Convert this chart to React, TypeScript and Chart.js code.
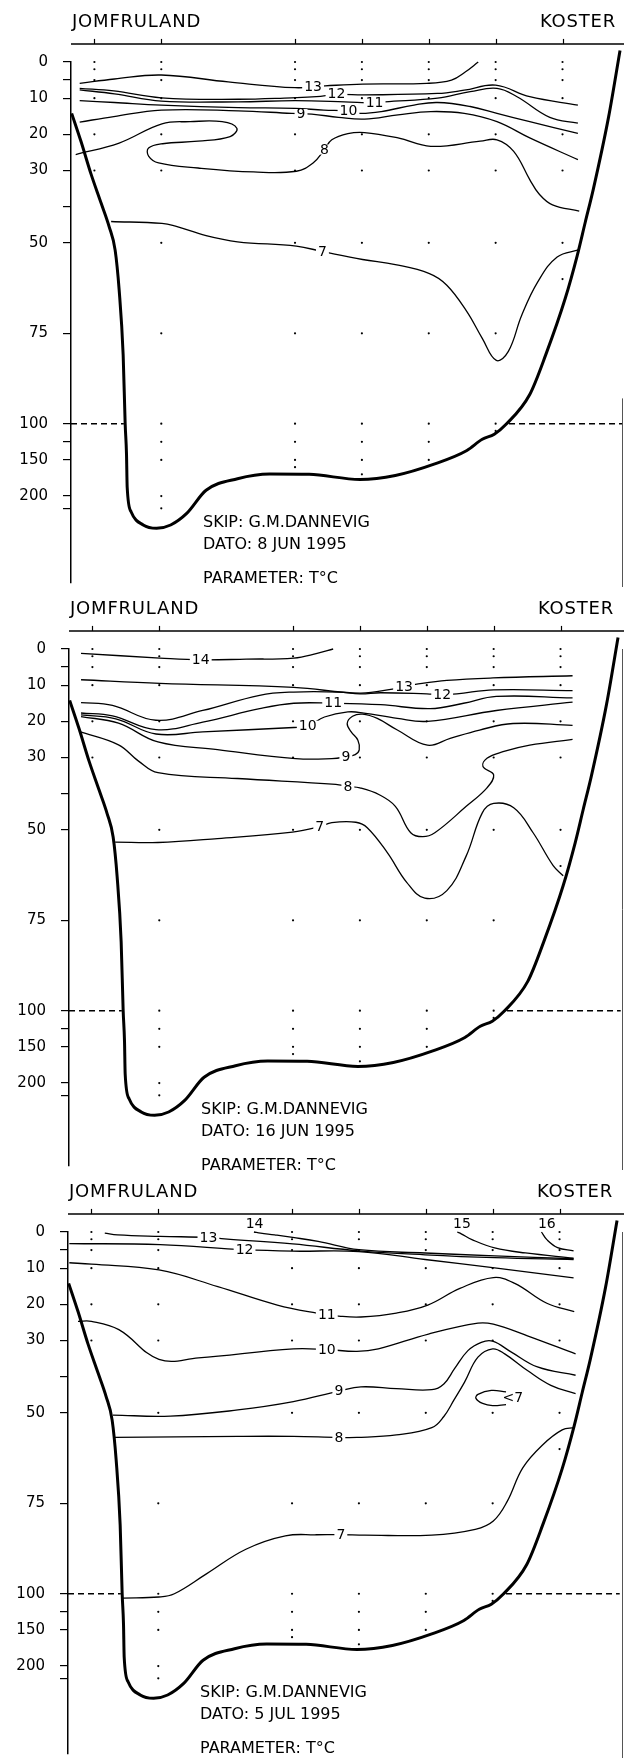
import React, { useEffect, useRef } from 'react';
import { Chart, registerables } from 'chart.js';
Chart.register(...registerables);

// ---------- shared data ----------
const stationX = [0, 1, 3, 4, 5, 6, 7];
const stationDepths = [
  [0, 2, 5, 10, 20, 30],
  [0, 2, 5, 10, 20, 30, 50, 75, 100, 125, 150, 200, 217],
  [0, 2, 5, 10, 20, 30, 50, 75, 100, 125, 150, 160],
  [0, 2, 5, 10, 20, 30, 50, 75, 100, 125, 150, 170],
  [0, 2, 5, 10, 20, 30, 50, 75, 100, 125, 150],
  [0, 2, 5, 10, 20, 30, 50, 75, 100, 110],
  [0, 2, 5, 10, 20, 30, 50, 60],
];
const yTickDepths = [0, 5, 10, 20, 30, 40, 50, 75, 100, 125, 150, 200, 217];
const yTickLabels = ['0', '', '10', '20', '30', '', '50', '75', '100', '', '150', '200', ''];

// bottom profile [distance, depth m]
const bottom = [
  [-0.34, 14.2], [-0.2, 22], [-0.05, 31], [0.1, 39], [0.22, 45.5], [0.31, 52], [0.37, 63], [0.43, 81],
  [0.46, 100], [0.48, 142], [0.49, 187.5], [0.55, 222], [0.73, 240], [0.93, 244.6], [1.14, 240],
  [1.38, 224], [1.67, 192], [2.14, 176], [2.62, 169.5], [3.21, 170], [3.97, 177], [4.5, 171.5],
  [5.09, 155.5], [5.57, 137], [5.8, 121.5], [5.98, 114.5], [6.16, 100.5], [6.51, 91.9], [6.75, 80.9],
  [7.04, 65.4], [7.22, 53.5], [7.34, 44.3], [7.46, 35.2], [7.69, 15.1], [7.86, -3.2],
];
const dash100Left = [[-0.35, 100], [0.44, 100]];
const dash100Right = [[6.2, 100], [7.9, 100]];

// ---------- panel 1: 8 JUN 1995 ----------
const p1_t13 = [[-0.22, 5.9], [0.3, 4.7], [1.0, 3.6], [2.0, 5.5], [3.0, 7.1], [3.45, 6.6], [4.01, 6.1], [4.97, 5.9], [5.34, 5.0], [5.55, 2.7], [5.74, 0]];
const p1_t12 = [[-0.22, 7.3], [0.29, 8.0], [1.0, 9.9], [2.15, 10.3], [2.95, 9.9], [3.32, 9.6], [3.62, 9.0], [4.04, 9.1], [5.13, 8.7], [5.53, 7.8], [6.0, 6.4], [6.51, 9.6], [7.23, 11.9]];
const p1_t11 = [[-0.22, 7.7], [0.3, 8.8], [1.0, 10.8], [2.15, 11.0], [3.0, 10.7], [3.74, 11.0], [4.19, 11.3], [4.34, 11.0], [5.13, 10.0], [5.62, 8.2], [6.02, 7.3], [6.32, 9.6], [6.81, 15.3], [7.23, 16.9]];
const p1_t10 = [[-0.22, 10.7], [0.3, 11.2], [1.0, 11.9], [2.15, 12.6], [3.0, 12.8], [3.43, 13.3], [3.8, 13.5], [3.97, 14.2], [4.29, 13.7], [4.78, 11.9], [5.13, 11.2], [5.62, 12.3], [6.02, 14.2], [6.51, 16.5], [7.23, 19.7]];
const p1_t9 = [[-0.22, 16.6], [0.29, 15.1], [1.0, 13.3], [2.15, 13.5], [2.95, 14.2], [3.25, 14.4], [3.65, 15.3], [4.04, 15.8], [4.54, 14.6], [5.03, 13.7], [5.53, 14.2], [6.02, 16.5], [6.51, 21.0], [7.23, 27.0]];
const p1_t8 = [[-0.28, 25.6], [0.37, 22.4], [1.01, 17.1], [1.43, 16.5], [1.91, 16.5], [2.13, 18.3], [2.03, 20.6], [1.55, 21.9], [1.02, 22.6], [0.81, 23.8], [0.81, 26.0], [0.96, 27.9], [1.55, 29.3], [2.38, 30.4], [3.02, 30.2], [3.27, 27.9], [3.44, 24.2], [3.55, 21.5], [3.79, 19.8], [4.04, 19.5], [4.54, 21.0], [5.03, 23.3], [5.77, 21.9], [6.02, 21.5], [6.27, 24.7], [6.51, 32.5], [6.65, 36.5], [6.85, 39.5], [7.25, 41.2]];
const p1_t7 = [[0.25, 44.1], [1.01, 44.6], [1.2, 45.3], [1.67, 48.0], [2.14, 49.7], [3.02, 50.9], [3.41, 52.4], [4.01, 54.6], [4.5, 56.0], [5.01, 58.5], [5.27, 61.7], [5.57, 69.0], [5.8, 76.4], [6.01, 82.5], [6.19, 80.0], [6.39, 70.0], [6.63, 60.8], [6.92, 53.9], [7.25, 51.9]];
const p1_labels: [string, number, number, boolean][] = [
  ['13', 3.27, 6.9, false], ['12', 3.62, 8.9, false], ['11', 4.19, 11.3, false], ['10', 3.8, 13.4, false],
  ['9', 3.09, 14.4, false], ['8', 3.44, 24.2, false], ['7', 3.41, 52.6, false],
];

// ---------- panel 2: 16 JUN 1995 ----------
const p2_t14 = [[-0.17, 1.2], [1.01, 2.5], [1.62, 3.0], [2.3, 2.8], [3.01, 2.5], [3.36, 1.2], [3.6, 0]];
const p2_t13 = [[-0.17, 8.5], [1.01, 9.5], [3.01, 10.6], [4.0, 12.2], [4.51, 11.0], [4.66, 10.4], [4.83, 9.8], [5.3, 8.7], [5.99, 8.0], [7.18, 7.4]];
const p2_t12 = [[-0.17, 14.8], [0.3, 15.6], [0.95, 19.7], [1.65, 17.0], [2.5, 12.8], [3.01, 11.9], [3.68, 11.9], [4.0, 12.4], [4.31, 12.1], [5.0, 12.4], [5.23, 12.6], [5.45, 12.4], [6.0, 11.3], [7.18, 11.5]];
const p2_t11 = [[-0.17, 17.7], [0.3, 18.5], [0.95, 22.3], [1.65, 20.2], [2.5, 16.5], [3.01, 15.0], [3.6, 15.0], [4.31, 15.4], [5.05, 16.5], [5.55, 15.0], [6.04, 13.1], [7.18, 13.5]];
const p2_t10 = [[-0.17, 18.2], [0.35, 19.3], [0.95, 23.5], [1.65, 22.9], [3.01, 21.7], [3.22, 21.3], [3.47, 18.8], [3.82, 17.4], [4.06, 17.7], [4.56, 19.2], [5.01, 20.0], [6.04, 17.0], [7.18, 14.7]];
const p2_t9 = [[-0.17, 18.7], [0.39, 20.5], [0.98, 25.7], [1.87, 27.8], [3.04, 30.3], [3.58, 30.3], [3.79, 29.8], [3.93, 29.2], [3.99, 27.9], [3.97, 25.2], [3.87, 22.9], [3.81, 20.6], [3.89, 18.6], [4.04, 18.0], [4.26, 19.2], [4.56, 22.4], [5.01, 26.6], [5.35, 24.7], [5.79, 22.4], [6.29, 20.6], [7.18, 21.1]];
const p2_t8 = [[-0.2, 22.8], [0.39, 26.5], [0.69, 31.0], [0.98, 34.2], [2.17, 35.8], [3.64, 37.4], [3.82, 38.0], [4.0, 38.4], [4.29, 40.3], [4.53, 43.5], [4.76, 50.8], [4.94, 51.9], [5.12, 50.8], [5.59, 43.5], [5.9, 38.4], [6.0, 34.8], [5.84, 32.5], [5.9, 30.2], [6.14, 28.4], [6.54, 26.6], [7.18, 25.0]];
const p2_t7 = [[0.34, 53.4], [0.98, 53.5], [1.87, 52.4], [2.99, 50.6], [3.4, 49.1], [3.58, 48.0], [3.94, 47.9], [4.11, 49.4], [4.41, 56.3], [4.7, 64.5], [4.97, 68.9], [5.3, 66.8], [5.59, 57.2], [5.83, 45.3], [6.0, 42.7], [6.3, 43.9], [6.59, 50.8], [6.89, 59.9], [7.04, 62.7]];
const p2_labels: [string, number, number, boolean][] = [
  ['14', 1.62, 3.1, false], ['13', 4.66, 10.4, false], ['12', 5.23, 12.7, false], ['11', 3.6, 15.0, false],
  ['10', 3.22, 21.2, false], ['9', 3.79, 29.8, false], ['8', 3.82, 38.0, false], ['7', 3.4, 49.1, false],
];

// ---------- panel 3: 5 JUL 1995 ----------
const p3_t16 = [[6.73, 0], [6.81, 2.1], [6.97, 4.3], [7.21, 5.2]];
const p3_t15 = [[5.47, 0], [5.53, 0.5], [5.69, 2.1], [6.03, 4.4], [6.49, 5.8], [7.21, 7.2]];
const p3_t14 = [[2.43, 0], [2.53, 0.3], [2.74, 0.8], [3.01, 1.5], [3.39, 2.6], [4.0, 4.9], [4.99, 5.8], [6.03, 6.6], [7.21, 7.4]];
const p3_t13 = [[0.2, 0.3], [0.39, 0.8], [1.03, 1.2], [1.75, 1.5], [1.99, 1.9], [3.01, 3.3], [4.0, 5.2], [4.99, 6.3], [6.03, 7.1], [7.21, 7.6]];
const p3_t12 = [[-0.33, 3.2], [1.03, 3.5], [2.29, 4.9], [3.01, 5.3], [4.0, 5.4], [4.99, 7.6], [6.03, 9.9], [7.21, 12.7]];
const p3_t11 = [[-0.33, 8.5], [0.0, 8.9], [1.01, 10.5], [1.89, 15.1], [2.78, 20.2], [3.37, 22.4], [3.73, 23.3], [4.03, 23.5], [4.56, 22.4], [5.03, 20.2], [5.51, 15.6], [6.01, 12.6], [6.33, 14.2], [6.81, 19.7], [7.22, 22.0]];
const p3_t10 = [[-0.2, 24.7], [0.0, 24.7], [0.41, 27.0], [1.01, 35.2], [1.6, 34.8], [3.02, 32.3], [3.52, 32.5], [3.97, 33.0], [4.29, 32.3], [5.04, 28.2], [5.78, 25.2], [6.01, 25.5], [6.52, 28.7], [7.24, 33.7]];
const p3_t9 = [[0.32, 50.6], [1.18, 50.9], [2.19, 49.2], [3.02, 46.9], [3.7, 44.0], [4.03, 42.8], [4.56, 43.3], [5.09, 43.6], [5.27, 42.0], [5.43, 37.8], [5.63, 32.8], [5.83, 30.5], [6.0, 30.2], [6.28, 33.2], [6.67, 37.3], [7.24, 39.6]];
const p3_t8 = [[0.35, 56.8], [2.19, 56.5], [3.02, 56.5], [3.7, 56.8], [3.97, 56.8], [4.56, 56.1], [5.09, 54.1], [5.27, 51.0], [5.42, 46.5], [5.58, 41.5], [5.78, 34.6], [6.0, 32.3], [6.18, 33.7], [6.52, 38.3], [6.87, 42.4], [7.24, 44.7]];
const p3_lt7 = [[6.2, 44.2], [5.98, 43.8], [5.78, 44.9], [5.75, 46.0], [5.85, 47.4], [6.0, 48.0], [6.2, 47.7]];
const p3_t7 = [[0.47, 106], [1.01, 104.5], [1.24, 100], [1.72, 94.5], [2.31, 87.7], [2.9, 84.0], [3.37, 83.7], [3.73, 83.7], [4.09, 83.8], [5.09, 83.8], [5.74, 82.2], [6.01, 79.9], [6.22, 74.4], [6.45, 65.2], [6.75, 58.8], [7.04, 54.7], [7.22, 54.1]];
const p3_labels: [string, number, number, boolean][] = [
  ['16', 6.81, -2.3, true], ['15', 5.54, -2.3, true], ['14', 2.44, -2.3, true],
  ['13', 1.75, 1.5, false], ['12', 2.29, 4.9, false], ['11', 3.52, 22.9, false], ['10', 3.52, 32.5, false],
  ['9', 3.7, 44.0, false], ['8', 3.7, 56.8, false], ['<7', 6.3, 45.9, false], ['7', 3.73, 83.7, false],
];

const panelDates = ['8 JUN 1995', '16 JUN 1995', '5 JUL 1995'];
const panelLines = [
  [p1_t13, p1_t12, p1_t11, p1_t10, p1_t9, p1_t8, p1_t7],
  [p2_t14, p2_t13, p2_t12, p2_t11, p2_t10, p2_t9, p2_t8, p2_t7],
  [p3_t16, p3_t15, p3_t14, p3_t13, p3_t12, p3_t11, p3_t10, p3_t9, p3_t8, p3_lt7, p3_t7],
];
const panelLabels = [p1_labels, p2_labels, p3_labels];

// ---------- layout (not data) ----------
const PANEL_TOP = [0, 587, 1170];
const PANEL_LEFT = [0, -2, -3];
const PANEL_H = [587, 583, 588];
const PAD_TOP = 62;
const AXIS_W = 71;
const PX_PER_UNIT_Y = 3.645;
const PX_PER_UNIT_X = 67.36;
const X_MIN = -0.35;
const RIGHT_LINE_FROM = [93, 0, 0];
const FONT = '"DejaVu Sans", "Liberation Sans", sans-serif';

const toPos = (d: number) => (d <= 100 ? d : 100 + (d - 100) / 5);
const pts = (arr: number[][]) => arr.map(([x, d]) => ({ x, y: toPos(d) }));

function buildConfig(i: number, W: number, H: number) {
  const lineSets = panelLines[i].map((l) => ({
    data: pts(l), showLine: true, borderColor: '#000', borderWidth: 1.3, pointRadius: 0,
    tension: 0.4, clip: false as any, fill: false,
  }));
  const dots: { x: number; y: number }[] = [];
  stationX.forEach((sx, k) => stationDepths[k].forEach((d) => dots.push({ x: sx, y: toPos(d) })));
  const labels = panelLabels[i];
  const xMax = X_MIN + (W - AXIS_W) / PX_PER_UNIT_X;
  const yMax = (H - PAD_TOP) / PX_PER_UNIT_Y;

  const decor = {
    id: 'decor' + i,
    afterDatasetsDraw(chart: any) {
      const { ctx, scales } = chart;
      const xs = scales.x, ys = scales.y;
      ctx.save();
      ctx.font = `14px ${FONT}`;
      ctx.textAlign = 'center';
      ctx.textBaseline = 'middle';
      for (const [t, u, d, bare] of labels) {
        const x = xs.getPixelForValue(u);
        const y = ys.getPixelForValue(toPos(d));
        const w = ctx.measureText(t).width;
        if (!bare) {
          ctx.fillStyle = '#fff';
          ctx.fillRect(x - w / 2 - 2, y - 5, w + 4, 10);
        }
        ctx.fillStyle = '#000';
        ctx.fillText(t, x, y + 0.5);
      }
      ctx.restore();
    },
    afterDraw(chart: any) {
      const { ctx, scales, chartArea } = chart;
      const xs = scales.x, ys = scales.y;
      ctx.save();
      // top axis with station ticks
      const yTop = ys.getPixelForValue(-5);
      ctx.strokeStyle = '#000';
      ctx.lineWidth = 1.5;
      ctx.beginPath();
      ctx.moveTo(chartArea.left, yTop);
      ctx.lineTo(W, yTop);
      ctx.stroke();
      ctx.lineWidth = 1.2;
      for (const sx of stationX) {
        const x = Math.round(xs.getPixelForValue(sx)) + 0.5;
        ctx.beginPath();
        ctx.moveTo(x, yTop);
        ctx.lineTo(x, yTop - 5);
        ctx.stroke();
      }
      // right frame line
      ctx.strokeStyle = '#555';
      ctx.lineWidth = 1;
      ctx.beginPath();
      ctx.moveTo(W - 1.5, ys.getPixelForValue(RIGHT_LINE_FROM[i]));
      ctx.lineTo(W - 1.5, H);
      ctx.stroke();
      // titles
      ctx.fillStyle = '#000';
      ctx.font = `18px ${FONT}`;
      (ctx as any).letterSpacing = '0.8px';
      ctx.textBaseline = 'alphabetic';
      ctx.textAlign = 'left';
      ctx.fillText('JOMFRULAND', 72, 27);
      ctx.textAlign = 'right';
      ctx.fillText('KOSTER', 616, 27);
      (ctx as any).letterSpacing = '0px';
      ctx.font = `16px ${FONT}`;
      ctx.textAlign = 'left';
      ctx.fillText('SKIP: G.M.DANNEVIG', 203, 527);
      ctx.fillText('DATO: ' + panelDates[i], 203, 548.5);
      ctx.fillText('PARAMETER: T°C', 203, 583);
      ctx.restore();
    },
  };

  return {
    type: 'scatter' as const,
    data: {
      datasets: [
        ...lineSets,
        { data: pts(bottom), showLine: true, borderColor: '#000', borderWidth: 3, pointRadius: 0, cubicInterpolationMode: 'monotone', clip: false as any },
        { data: pts(dash100Left), showLine: true, borderColor: '#000', borderWidth: 1.5, borderDash: [6, 4], pointRadius: 0, clip: false as any },
        { data: pts(dash100Right), showLine: true, borderColor: '#000', borderWidth: 1.5, borderDash: [6, 4], pointRadius: 0, clip: false as any },
        { data: dots, showLine: false, pointRadius: 1.1, pointStyle: 'circle', backgroundColor: '#000', borderWidth: 0, clip: false as any },
      ],
    },
    options: {
      animation: false,
      responsive: false,
      devicePixelRatio: 1,
      events: [],
      layout: { padding: { top: PAD_TOP, left: 0, right: 0, bottom: 0 } },
      plugins: { legend: { display: false }, tooltip: { enabled: false } },
      scales: {
        x: { type: 'linear', display: false, min: X_MIN, max: xMax },
        y: {
          type: 'linear', position: 'left', reverse: true, min: 0, max: yMax,
          afterBuildTicks: (s: any) => { s.ticks = yTickDepths.map((d) => ({ value: toPos(d) })); },
          afterFit: (s: any) => { s.width = AXIS_W; s.paddingTop = 0; s.paddingBottom = 0; },
          ticks: {
            autoSkip: false, padding: 15, color: '#000',
            font: { family: FONT, size: 15 },
            callback: (_v: any, idx: number) => yTickLabels[idx] ?? '',
          },
          grid: { drawOnChartArea: false, drawTicks: true, tickLength: 8, color: '#000', lineWidth: 1.2 },
          border: { display: true, color: '#000', width: 1.5 },
        },
      },
    },
    plugins: [decor],
  };
}

function Panel({ i }: { i: number }) {
  const ref = useRef<HTMLCanvasElement>(null);
  const W = 624 - PANEL_LEFT[i];
  const H = PANEL_H[i];
  useEffect(() => {
    const chart = new Chart(ref.current as HTMLCanvasElement, buildConfig(i, W, H) as any);
    return () => chart.destroy();
  }, [i, W, H]);
  return (
    <canvas
      ref={ref}
      width={W}
      height={H}
      style={{ position: 'absolute', left: PANEL_LEFT[i], top: PANEL_TOP[i], width: W, height: H, display: 'block' }}
    />
  );
}

export default function App() {
  return (
    <div style={{ position: 'absolute', left: 0, top: 0, width: 624, height: 1758, background: '#fff', overflow: 'hidden' }}>
      <Panel i={0} />
      <Panel i={1} />
      <Panel i={2} />
    </div>
  );
}
